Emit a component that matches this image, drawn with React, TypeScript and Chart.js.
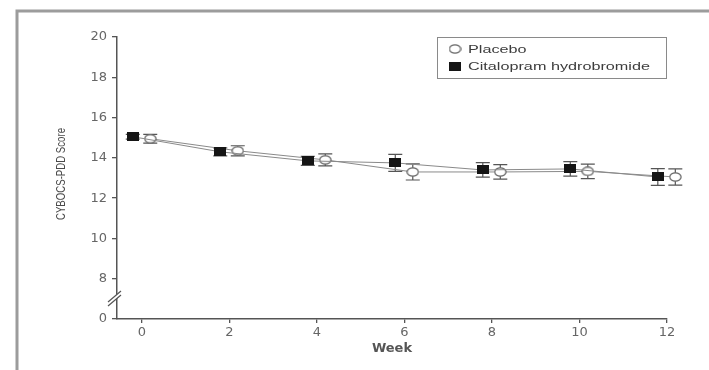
import React, { useEffect, useRef } from "react";
import { Chart, registerables } from "chart.js";

Chart.register(...registerables);

const weeks = [0, 2, 4, 6, 8, 10, 12];
const citalopramMean = [15.05, 14.3, 13.85, 13.75, 13.4, 13.45, 13.05];
const citalopramErr = [0.12, 0.2, 0.22, 0.42, 0.36, 0.36, 0.42];
const placeboMean = [14.95, 14.35, 13.9, 13.3, 13.3, 13.33, 13.05];
const placeboErr = [0.22, 0.25, 0.3, 0.4, 0.36, 0.36, 0.4];
const xTickValues = [0, 2, 4, 6, 8, 10, 12];
const yTickValues = [6, 8, 10, 12, 14, 16, 18, 20];
const yTickLabels = ["0", "8", "10", "12", "14", "16", "18", "20"];
const seriesNames = ["Placebo", "Citalopram hydrobromide"];
const yTitle = "CYBOCS-PDD Score";

const CIT_SHIFT = -0.21;
const PLA_SHIFT = 0.19;

function makeSquare() {
  const c = document.createElement("canvas");
  c.width = 12;
  c.height = 9;
  const ctx = c.getContext("2d")!;
  ctx.fillStyle = "#151515";
  ctx.fillRect(0, 0, 12, 9);
  return c;
}

function makeCircle() {
  const c = document.createElement("canvas");
  c.width = 13;
  c.height = 10;
  const ctx = c.getContext("2d")!;
  ctx.fillStyle = "#ffffff";
  ctx.strokeStyle = "#666";
  ctx.lineWidth = 1.2;
  ctx.beginPath();
  ctx.ellipse(6.5, 5, 5.6, 4.2, 0, 0, Math.PI * 2);
  ctx.fill();
  ctx.stroke();
  return c;
}

export default function App() {
  const ref = useRef<HTMLCanvasElement | null>(null);

  useEffect(() => {
    document.body.style.margin = "0";
    const canvas = ref.current!;
    const square = makeSquare();
    const circle = makeCircle();

    const errorsByDataset = [citalopramErr, placeboErr];

    const framePlugin = {
      id: "frame",
      beforeDraw(chart: any) {
        const ctx = chart.ctx;
        ctx.save();
        ctx.fillStyle = "#fff";
        ctx.fillRect(0, 0, chart.width, chart.height);
        ctx.strokeStyle = "#9c9c9c";
        ctx.lineWidth = 3;
        ctx.beginPath();
        ctx.moveTo(17, chart.height);
        ctx.lineTo(17, 11);
        ctx.lineTo(chart.width, 11);
        ctx.stroke();
        ctx.restore();
      },
    };

    const errorBarPlugin = {
      id: "errorBars",
      beforeDatasetsDraw(chart: any) {
        const ctx = chart.ctx;
        const ys = chart.scales.y;
        ctx.save();
        ctx.strokeStyle = "#555";
        ctx.lineWidth = 1.2;
        chart.data.datasets.forEach((ds: any, di: number) => {
          const meta = chart.getDatasetMeta(di);
          const errs = errorsByDataset[di];
          meta.data.forEach((pt: any, i: number) => {
            const v = ds.data[i].y;
            const top = ys.getPixelForValue(v + errs[i]);
            const bot = ys.getPixelForValue(v - errs[i]);
            const x = pt.x;
            ctx.beginPath();
            ctx.moveTo(x, top);
            ctx.lineTo(x, bot);
            ctx.moveTo(x - 7, top);
            ctx.lineTo(x + 7, top);
            ctx.moveTo(x - 7, bot);
            ctx.lineTo(x + 7, bot);
            ctx.stroke();
          });
        });
        ctx.restore();
      },
    };

    const extrasPlugin = {
      id: "extras",
      afterDraw(chart: any) {
        const ctx = chart.ctx;
        const area = chart.chartArea;
        ctx.save();
        // axis break marks
        ctx.fillStyle = "#fff";
        ctx.beginPath();
        ctx.moveTo(108, 302);
        ctx.lineTo(121, 291);
        ctx.lineTo(121, 295);
        ctx.lineTo(108, 306);
        ctx.closePath();
        ctx.fill();
        ctx.strokeStyle = "#555";
        ctx.lineWidth = 1.2;
        ctx.beginPath();
        ctx.moveTo(108, 302);
        ctx.lineTo(121, 291);
        ctx.moveTo(108, 306);
        ctx.lineTo(121, 295);
        ctx.stroke();

        // y-axis title (condensed)
        ctx.save();
        ctx.font = "13px 'Liberation Sans', Arial, sans-serif";
        const tw = ctx.measureText(yTitle).width;
        ctx.translate(61, (area.top + area.bottom) / 2 - 4);
        ctx.rotate(-Math.PI / 2);
        ctx.scale(92 / tw, 1);
        ctx.fillStyle = "#4a4a4a";
        ctx.textAlign = "center";
        ctx.textBaseline = "middle";
        ctx.fillText(yTitle, 0, 0);
        ctx.restore();

        // legend box
        ctx.strokeStyle = "#8a8a8a";
        ctx.lineWidth = 1;
        ctx.strokeRect(437.5, 37.5, 229, 41);
        const imgs = [circle, square];
        const rows = [49, 66];
        ctx.font = "11px 'Liberation Sans', Arial, sans-serif";
        const sx = 182 / ctx.measureText(seriesNames[1]).width;
        seriesNames.forEach((name, i) => {
          const im = imgs[i];
          ctx.drawImage(im, 455 - im.width / 2, rows[i] - im.height / 2);
          ctx.save();
          ctx.translate(468, rows[i]);
          ctx.scale(sx, 1.05);
          ctx.fillStyle = "#3c3c3c";
          ctx.textBaseline = "middle";
          ctx.textAlign = "left";
          ctx.fillText(name, 0, 0.5);
          ctx.restore();
        });
        ctx.restore();
      },
    };

    const chart = new Chart(canvas, {
      type: "line",
      data: {
        datasets: [
          {
            label: seriesNames[1],
            data: weeks.map((w, i) => ({ x: w + CIT_SHIFT, y: citalopramMean[i] })),
            borderColor: "#8a8a8a",
            borderWidth: 1,
            pointStyle: square as any,
            pointRadius: 10,
            pointHoverRadius: 10,
            showLine: true,
            tension: 0,
            clip: false as any,
          },
          {
            label: seriesNames[0],
            data: weeks.map((w, i) => ({ x: w + PLA_SHIFT, y: placeboMean[i] })),
            borderColor: "#8a8a8a",
            borderWidth: 1,
            pointStyle: circle as any,
            pointRadius: 10,
            pointHoverRadius: 10,
            showLine: true,
            tension: 0,
            clip: false as any,
          },
        ],
      },
      options: {
        responsive: false,
        animation: false,
        layout: { padding: { left: 0, top: 37, right: 42, bottom: 0 } },
        plugins: {
          legend: { display: false },
          tooltip: { enabled: false },
        },
        scales: {
          x: {
            type: "linear",
            min: -0.57,
            max: 12,
            afterFit(scale: any) {
              scale.height = 51;
            },
            afterBuildTicks(scale: any) {
              scale.ticks = xTickValues.map((v) => ({ value: v }));
            },
            grid: {
              drawOnChartArea: false,
              drawTicks: true,
              tickLength: 4,
              color: "#555",
              lineWidth: 1.3,
            },
            border: { display: true, color: "#555", width: 1.5 },
            ticks: {
              padding: 2,
              color: "#666",
              font: { family: "'DejaVu Sans', sans-serif", size: 13 },
              callback: (v: any) => String(v),
            },
            title: {
              display: true,
              text: "Week",
              color: "#555",
              font: { family: "'DejaVu Sans', sans-serif", size: 13, weight: "bold" },
              padding: { top: 0, bottom: 14 },
            },
          },
          y: {
            type: "linear",
            min: 6,
            max: 20,
            afterFit(scale: any) {
              scale.width = 117;
            },
            afterBuildTicks(scale: any) {
              scale.ticks = yTickValues.map((v) => ({ value: v }));
            },
            grid: {
              drawOnChartArea: false,
              drawTicks: true,
              tickLength: 5,
              color: "#555",
              lineWidth: 1.3,
            },
            border: { display: true, color: "#555", width: 1.5 },
            ticks: {
              padding: 5,
              color: "#666",
              font: { family: "'DejaVu Sans', sans-serif", size: 13 },
              callback: (v: any) => {
                const idx = yTickValues.indexOf(Number(v));
                return idx >= 0 ? yTickLabels[idx] : "";
              },
            },
            title: { display: false },
          },
        },
      },
      plugins: [framePlugin, errorBarPlugin, extrasPlugin],
    });

    return () => chart.destroy();
  }, []);

  return (
    <div style={{ width: 709, height: 370 }}>
      <canvas ref={ref} width={709} height={370} style={{ display: "block" }} />
    </div>
  );
}
